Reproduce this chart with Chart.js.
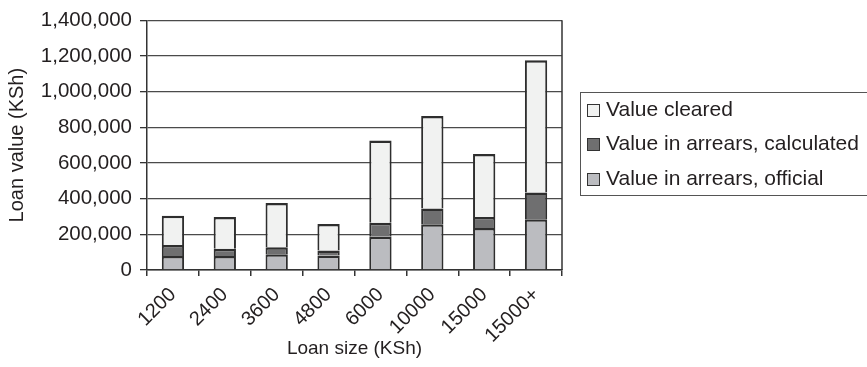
<!DOCTYPE html>
<html>
<head>
<meta charset="utf-8">
<script src="https://cdn.jsdelivr.net/npm/chart.js@4.4.1/dist/chart.umd.min.js"></script>
<style>
    body{
        margin: 0;
        background: #fff;
        overflow: hidden;
    }
    #wrap{
        position: relative;
        width: 867px;
        height: 367px;
        overflow: hidden;
    }
    #loanLegend{
        position: absolute;
        left: 580px;
        top: 92px;
        width: 330px;
        height: 104px;
        border: 1px solid #555;
        font-family: "Liberation Sans", Arial, sans-serif;
        font-size: 21px;
        color: #231f20;
        box-sizing: border-box;
    }
    .legend-item{
        position: absolute;
        left: 6px;
        white-space: nowrap;
        line-height: 24px;
    }
    .legend-box{
        display: inline-block;
        width: 11px;
        height: 11px;
        border: 1px solid #333;
        margin-right: 6px;
        vertical-align: -1px;
    }
</style>
</head>
<body>
<div id="wrap">
    <canvas id="loanChart" width="867" height="367"></canvas>
    <div id="loanLegend"></div>
</div>
<script>
const loanSizes = ['1200', '2400', '3600', '4800', '6000', '10000', '15000', '15000+'];

// stacked from the bottom up
const arrearsOfficial   = [78000, 78000, 88000, 81000, 186000, 256000, 235000, 284000];
const arrearsCalculated = [62000, 41000, 39000, 29000, 79000, 89000, 62000, 151000];
const valueCleared      = [164000, 178000, 248000, 148000, 461000, 519000, 353000, 741000];

const yMax = 1400000;
const yStep = 200000;

const seriesNames = ['Value in arrears, official', 'Value in arrears, calculated', 'Value cleared'];
const seriesColors = ['#bbbcc0', '#6f6f70', '#f1f2f1'];

const textColor = '#231f20';
const fontFamily = '"Liberation Sans", Arial, sans-serif';


// right side of the plot frame (left, bottom and top come from the scales)
const frameLine = {
    id: 'frameLine',
    afterDatasetsDraw(chart){
        const area = chart.chartArea;
        const ctx = chart.ctx;
        ctx.save();
        ctx.strokeStyle = '#333';
        ctx.lineWidth = 1.5;
        ctx.beginPath();
        ctx.moveTo(area.right, area.top);
        ctx.lineTo(area.right, area.bottom);
        ctx.stroke();
        ctx.restore();
    }
};


function buildLegend(){
    const legend = document.getElementById('loanLegend');
    const rowsTop = [4, 38, 73];

    // legend lists the top segment first
    for(let i = seriesNames.length - 1, row = 0; i >= 0; i--, row++){
        let item = document.createElement('div');
        item.className = 'legend-item';
        item.style.top = rowsTop[row] + 'px';

        let box = document.createElement('span');
        box.className = 'legend-box';
        box.style.background = seriesColors[i];

        item.appendChild(box);
        item.appendChild(document.createTextNode(seriesNames[i]));
        legend.appendChild(item);
    };
};


function buildChart(){

    const values = [arrearsOfficial, arrearsCalculated, valueCleared];
    let datasets = [];

    for(let i = 0; i < values.length; i++){
        datasets.push({
            label: seriesNames[i],
            data: values[i],
            backgroundColor: seriesColors[i],
            borderColor: '#2e2e2e',
            // no bottom edge so the joins between segments stay single lines
            borderWidth: { top: 2.5, right: 2, bottom: 0, left: 2 },
            borderSkipped: false,
            categoryPercentage: 1,
            barPercentage: 0.43
        });
    };

    const canvas = document.getElementById('loanChart').getContext('2d');
    new Chart(canvas, {
        type: 'bar',
        data: {
            labels: loanSizes,
            datasets: datasets
        },
        options: {
            responsive: false,
            animation: false,
            layout: {
                padding: {
                    left: 0,
                    right: 305,
                    top: 20,
                    bottom: 0
                }
            },
            scales: {
                x: {
                    stacked: true,
                    afterFit: function(scale){
                        scale.height = 97;
                    },
                    grid: {
                        offset: true,
                        drawOnChartArea: false,
                        drawTicks: true,
                        tickLength: 6,
                        tickColor: '#333',
                        lineWidth: 1.5
                    },
                    border: {
                        display: true,
                        color: '#333',
                        width: 1.5
                    },
                    ticks: {
                        minRotation: 45,
                        maxRotation: 45,
                        padding: 7,
                        color: textColor,
                        font: { family: fontFamily, size: 20 }
                    },
                    title: {
                        display: true,
                        text: 'Loan size (KSh)',
                        color: textColor,
                        font: { family: fontFamily, size: 19 },
                        padding: { top: 0, bottom: 7 }
                    }
                },
                y: {
                    stacked: true,
                    min: 0,
                    max: yMax,
                    afterFit: function(scale){
                        scale.width = 147;
                    },
                    grid: {
                        color: '#4a4a4a',
                        lineWidth: 1.3,
                        tickLength: 7,
                        tickColor: '#333'
                    },
                    border: {
                        display: true,
                        color: '#333',
                        width: 1.5
                    },
                    ticks: {
                        stepSize: yStep,
                        padding: 8,
                        color: textColor,
                        font: { family: fontFamily, size: 20.5 },
                        callback: function(value){
                            return value.toLocaleString('en-US');
                        }
                    },
                    title: {
                        display: true,
                        text: 'Loan value (KSh)',
                        color: textColor,
                        font: { family: fontFamily, size: 20 },
                        padding: { top: 5, bottom: 0 }
                    }
                }
            },
            plugins: {
                legend: { display: false },
                tooltip: { enabled: false }
            }
        },
        plugins: [frameLine]
    });
};


window.addEventListener('load', function(){
    buildChart();
    buildLegend();
});
</script>
</body>
</html>
